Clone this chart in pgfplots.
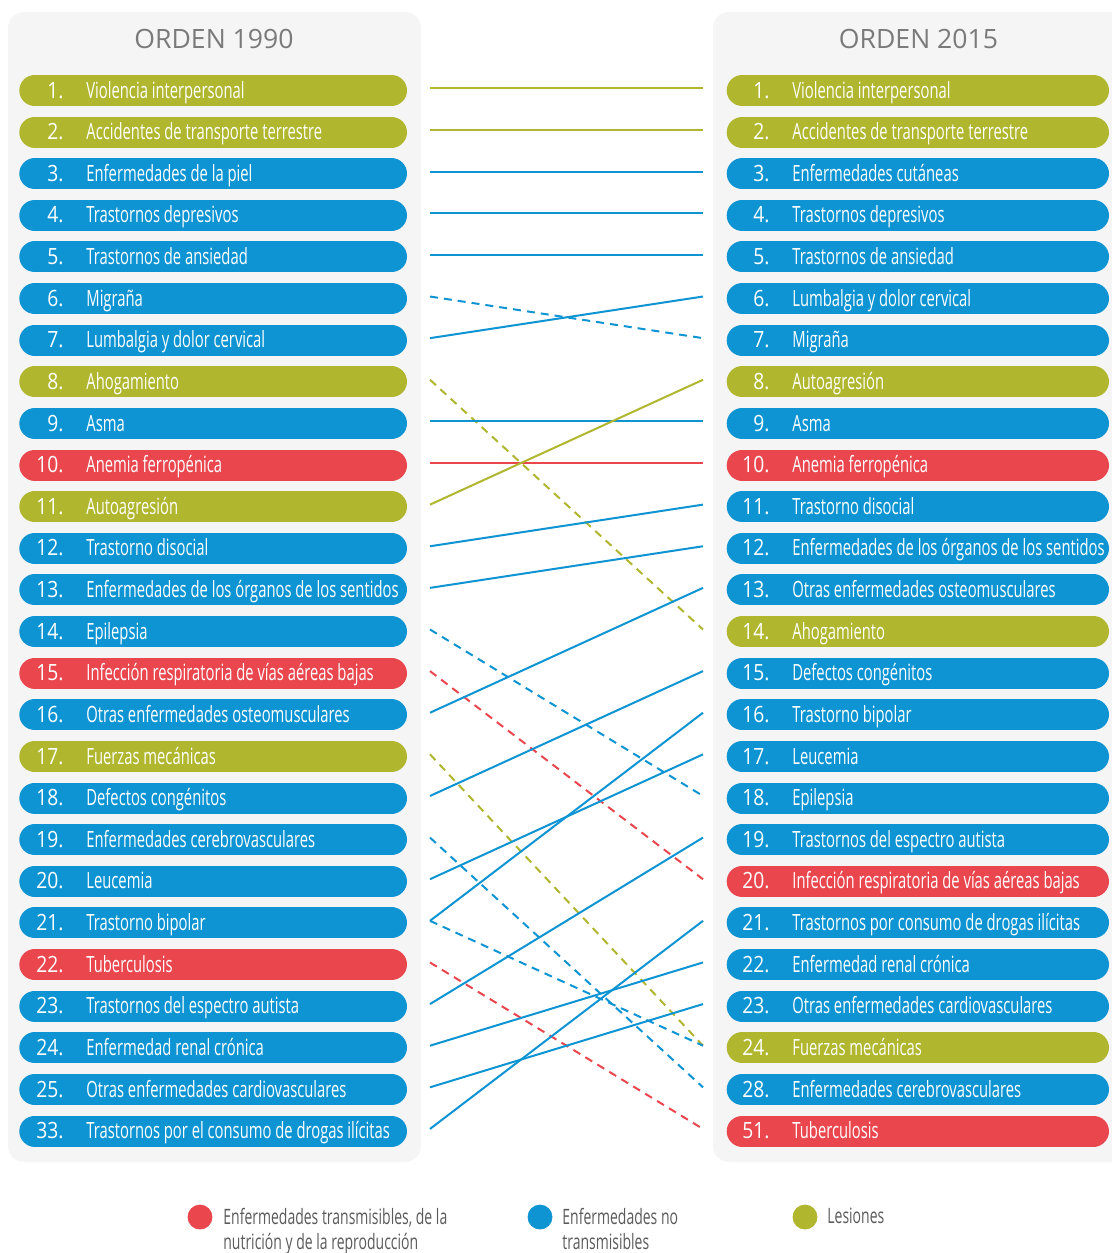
\documentclass[border=0pt]{standalone}
\usepackage{fontspec}
\setmainfont{Open Sans}
\newfontfamily\cond{Open Sans}[FakeStretch=0.66]
\newfontfamily\numf{Open Sans}[FakeStretch=0.86]
\usepackage{pgfplots}
\pgfplotsset{compat=1.18}
\definecolor{ol}{HTML}{B0B62E}
\definecolor{bl}{HTML}{0E94D3}
\definecolor{rd}{HTML}{E9464E}
\definecolor{panel}{HTML}{F5F5F5}
\definecolor{hdr}{HTML}{7A7A7A}
\definecolor{lg}{HTML}{5A5A5A}
\newcommand\pilltext{\cond\fontsize{11.2}{13}\selectfont\color{white}}
\newcommand\pillnum{\numf\fontsize{11.2}{13}\selectfont\color{white}}
\newcommand\lpill[4]{%
  \addplot[draw=#2, line width=15.5pt, line cap=round] coordinates {(34.8,#1) (391.5,#1)};
  \node[anchor=base east, yshift=-3.8pt, font=\pillnum, inner sep=0pt] at (axis cs:64,#1) {#3.};
  \node[anchor=base west, yshift=-3.8pt, font=\pilltext, inner sep=0pt] at (axis cs:86,#1) {#4};
}
\newcommand\rpill[4]{%
  \addplot[draw=#2, line width=15.5pt, line cap=round] coordinates {(742.2,#1) (1093.5,#1)};
  \node[anchor=base east, yshift=-3.8pt, font=\pillnum, inner sep=0pt] at (axis cs:770,#1) {#3.};
  \node[anchor=base west, yshift=-3.8pt, font=\pilltext, inner sep=0pt] at (axis cs:792,#1) {#4};
}
\newcommand\link[4]{%
  \addplot[draw=#3, line width=1pt, #4] coordinates {(430,#1) (703,#2)};
}
\begin{document}
\begin{tikzpicture}
\begin{axis}[name=ax, scale only axis, width=556pt, height=626.5pt,
  xmin=0, xmax=1112, ymin=-1.1744, ymax=28.931, y dir=reverse,
  hide axis, clip=false]
% panels
\fill[panel, rounded corners=8pt] (axis cs:8,-0.886) rectangle (axis cs:421,26.745);
\fill[panel, rounded corners=8pt] (axis cs:713,-0.886) rectangle (axis cs:1130,26.745);
\node[anchor=base, font=\fontsize{13.3}{15}\selectfont, text=hdr, inner sep=0pt] at (axis cs:214,0.0) {ORDEN 1990};
\node[anchor=base, font=\fontsize{13.3}{15}\selectfont, text=hdr, inner sep=0pt] at (axis cs:918.5,0.0) {ORDEN 2015};
% left list (orden 1990)
\lpill{1}{ol}{1}{Violencia interpersonal}
\lpill{2}{ol}{2}{Accidentes de transporte terrestre}
\lpill{3}{bl}{3}{Enfermedades de la piel}
\lpill{4}{bl}{4}{Trastornos depresivos}
\lpill{5}{bl}{5}{Trastornos de ansiedad}
\lpill{6}{bl}{6}{Migraña}
\lpill{7}{bl}{7}{Lumbalgia y dolor cervical}
\lpill{8}{ol}{8}{Ahogamiento}
\lpill{9}{bl}{9}{Asma}
\lpill{10}{rd}{10}{Anemia ferropénica}
\lpill{11}{ol}{11}{Autoagresión}
\lpill{12}{bl}{12}{Trastorno disocial}
\lpill{13}{bl}{13}{Enfermedades de los órganos de los sentidos}
\lpill{14}{bl}{14}{Epilepsia}
\lpill{15}{rd}{15}{Infección respiratoria de vías aéreas bajas}
\lpill{16}{bl}{16}{Otras enfermedades osteomusculares}
\lpill{17}{ol}{17}{Fuerzas mecánicas}
\lpill{18}{bl}{18}{Defectos congénitos}
\lpill{19}{bl}{19}{Enfermedades cerebrovasculares}
\lpill{20}{bl}{20}{Leucemia}
\lpill{21}{bl}{21}{Trastorno bipolar}
\lpill{22}{rd}{22}{Tuberculosis}
\lpill{23}{bl}{23}{Trastornos del espectro autista}
\lpill{24}{bl}{24}{Enfermedad renal crónica}
\lpill{25}{bl}{25}{Otras enfermedades cardiovasculares}
\lpill{26}{bl}{33}{Trastornos por el consumo de drogas ilícitas}
% right list (orden 2015)
\rpill{1}{ol}{1}{Violencia interpersonal}
\rpill{2}{ol}{2}{Accidentes de transporte terrestre}
\rpill{3}{bl}{3}{Enfermedades cutáneas}
\rpill{4}{bl}{4}{Trastornos depresivos}
\rpill{5}{bl}{5}{Trastornos de ansiedad}
\rpill{6}{bl}{6}{Lumbalgia y dolor cervical}
\rpill{7}{bl}{7}{Migraña}
\rpill{8}{ol}{8}{Autoagresión}
\rpill{9}{bl}{9}{Asma}
\rpill{10}{rd}{10}{Anemia ferropénica}
\rpill{11}{bl}{11}{Trastorno disocial}
\rpill{12}{bl}{12}{Enfermedades de los órganos de los sentidos}
\rpill{13}{bl}{13}{Otras enfermedades osteomusculares}
\rpill{14}{ol}{14}{Ahogamiento}
\rpill{15}{bl}{15}{Defectos congénitos}
\rpill{16}{bl}{16}{Trastorno bipolar}
\rpill{17}{bl}{17}{Leucemia}
\rpill{18}{bl}{18}{Epilepsia}
\rpill{19}{bl}{19}{Trastornos del espectro autista}
\rpill{20}{rd}{20}{Infección respiratoria de vías aéreas bajas}
\rpill{21}{bl}{21}{Trastornos por consumo de drogas ilícitas}
\rpill{22}{bl}{22}{Enfermedad renal crónica}
\rpill{23}{bl}{23}{Otras enfermedades cardiovasculares}
\rpill{24}{ol}{24}{Fuerzas mecánicas}
\rpill{25}{bl}{28}{Enfermedades cerebrovasculares}
\rpill{26}{rd}{51}{Tuberculosis}
% links (row in 1990 list -> row in 2015 list)
\link{0.95}{0.95}{ol}{}
\link{1.95}{1.95}{ol}{}
\link{2.95}{2.95}{bl}{}
\link{3.95}{3.95}{bl}{}
\link{4.95}{4.95}{bl}{}
\link{5.95}{6.95}{bl}{dash pattern=on 4pt off 3pt}
\link{6.95}{5.95}{bl}{}
\link{7.95}{13.95}{ol}{dash pattern=on 4pt off 3pt}
\link{8.95}{8.95}{bl}{}
\link{9.95}{9.95}{rd}{}
\link{10.95}{7.95}{ol}{}
\link{11.95}{10.95}{bl}{}
\link{12.95}{11.95}{bl}{}
\link{13.95}{17.95}{bl}{dash pattern=on 4pt off 3pt}
\link{14.95}{19.95}{rd}{dash pattern=on 4pt off 3pt}
\link{15.95}{12.95}{bl}{}
\link{16.95}{23.95}{ol}{dash pattern=on 4pt off 3pt}
\link{17.95}{14.95}{bl}{}
\link{18.95}{24.95}{bl}{dash pattern=on 4pt off 3pt}
\link{19.95}{16.95}{bl}{}
\link{20.95}{15.95}{bl}{}
\link{20.95}{23.95}{bl}{dash pattern=on 4pt off 3pt}
\link{21.95}{25.95}{rd}{dash pattern=on 4pt off 3pt}
\link{22.95}{18.95}{bl}{}
\link{23.95}{21.95}{bl}{}
\link{24.95}{22.95}{bl}{}
\link{25.95}{20.95}{bl}{}
% legend
\addplot[only marks, mark=*, mark size=6pt, color=rd] coordinates {(200,28.067)};
\addplot[only marks, mark=*, mark size=6pt, color=bl] coordinates {(540,28.067)};
\addplot[only marks, mark=*, mark size=6pt, color=ol] coordinates {(805,28.067)};
\node[anchor=base west, align=left, font=\cond\fontsize{10.6}{12.5}\selectfont, text=lg, inner sep=0pt] at (axis cs:223,28.84) {Enfermedades transmisibles, de la\\nutrición y de la reproducción};
\node[anchor=base west, align=left, font=\cond\fontsize{10.6}{12.5}\selectfont, text=lg, inner sep=0pt] at (axis cs:562,28.84) {Enfermedades no\\transmisibles};
\node[anchor=base west, align=left, font=\cond\fontsize{10.6}{12.5}\selectfont, text=lg, inner sep=0pt] at (axis cs:827,28.233) {Lesiones};
\end{axis}
\pgfresetboundingbox
\path (ax.south west) rectangle (ax.north east);
\end{tikzpicture}
\end{document}
